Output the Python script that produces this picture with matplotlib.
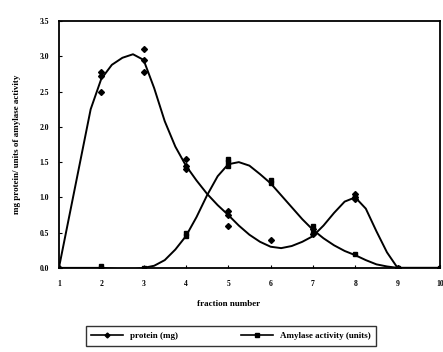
import numpy as np
import matplotlib.pyplot as plt

# fitted curves, every 0.25 fraction
curve_x = np.arange(1, 10.01, 0.25)
protein_curve = [0.0, 0.75, 1.5, 2.25, 2.68, 2.88, 2.98, 3.03, 2.95, 2.55, 2.08, 1.72,
                 1.45, 1.24, 1.05, 0.89, 0.75, 0.6, 0.47, 0.37, 0.3, 0.28, 0.31, 0.37,
                 0.45, 0.6, 0.78, 0.94, 1.0, 0.84, 0.52, 0.22, 0.0, 0.0, 0.0, 0.0, 0.0]
amylase_curve = [0.0, 0.0, 0.0, 0.0, 0.0, -0.01, -0.02, -0.02, 0.0, 0.03, 0.11, 0.26,
                 0.45, 0.72, 1.03, 1.3, 1.47, 1.5, 1.45, 1.33, 1.2, 1.03, 0.86, 0.69,
                 0.54, 0.42, 0.32, 0.24, 0.18, 0.11, 0.05, 0.02, 0.0, 0.0, 0.0, 0.0, 0.0]

# replicate measurements
protein_x = [1, 2, 2, 2, 3, 3, 3, 4, 4, 4, 5, 5, 5, 6, 7, 7, 8, 8, 8, 9, 10]
protein_y = [0.0, 2.78, 2.72, 2.5, 3.1, 2.95, 2.78, 1.55, 1.45, 1.4, 0.8, 0.75, 0.6,
             0.4, 0.55, 0.48, 1.05, 1.0, 0.97, 0.0, 0.0]
amylase_x = [2, 2, 3, 4, 4, 5, 5, 5, 6, 6, 7, 7, 8, 9, 10]
amylase_y = [0.03, 0.0, 0.0, 0.5, 0.45, 1.55, 1.5, 1.45, 1.25, 1.2, 0.6, 0.5, 0.2, 0.0, 0.0]

plt.rcParams['font.family'] = 'Liberation Serif'
plt.rcParams['font.weight'] = 'bold'

fig = plt.figure(figsize=(4.43, 3.52), dpi=100)
ax = fig.add_axes([0.133, 0.239, 0.860, 0.701])

ax.plot(curve_x, protein_curve, color='black', lw=1.4)
ax.plot(curve_x, amylase_curve, color='black', lw=1.4)
ax.plot(protein_x, protein_y, 'D', color='black', ms=3)
ax.plot(amylase_x, amylase_y, 's', color='black', ms=3)

ax.set_xlim(1, 10)
ax.set_ylim(0, 3.5)
ax.set_xticks(range(1, 11))
ax.set_yticks(np.arange(0, 3.51, 0.5))
ax.set_yticklabels(['%.1f' % v for v in np.arange(0, 3.51, 0.5)])
ax.tick_params(labelsize=5.5, length=2, width=0.8, direction='in')
ax.tick_params(axis='x', pad=9)
ax.tick_params(axis='y', pad=7)
for s in ax.spines.values():
    s.set_linewidth(1.3)

ax.set_xlabel('fraction number', fontsize=6.5, fontweight='bold')
ax.xaxis.set_label_coords(0.445, -0.13)
ax.set_ylabel('mg protein/ units of amylase activity', fontsize=6.5, fontweight='bold')
ax.yaxis.set_label_coords(-0.1, 0.5)

h1, = ax.plot([], [], '-D', color='black', ms=2.5, lw=1.2)
h2, = ax.plot([], [], '-s', color='black', ms=2.5, lw=1.2)
leg = fig.legend([h1, h2], ['protein (mg)', 'Amylase activity (units)'],
                 loc='center', bbox_to_anchor=(231 / 443, 1 - 336 / 352), ncol=2,
                 fontsize=6.5, frameon=True, fancybox=False, edgecolor='black',
                 handlelength=3.5, columnspacing=7, borderpad=0.6, borderaxespad=0)
leg.get_frame().set_linewidth(1.0)

fig.savefig('out.png', dpi=100)
